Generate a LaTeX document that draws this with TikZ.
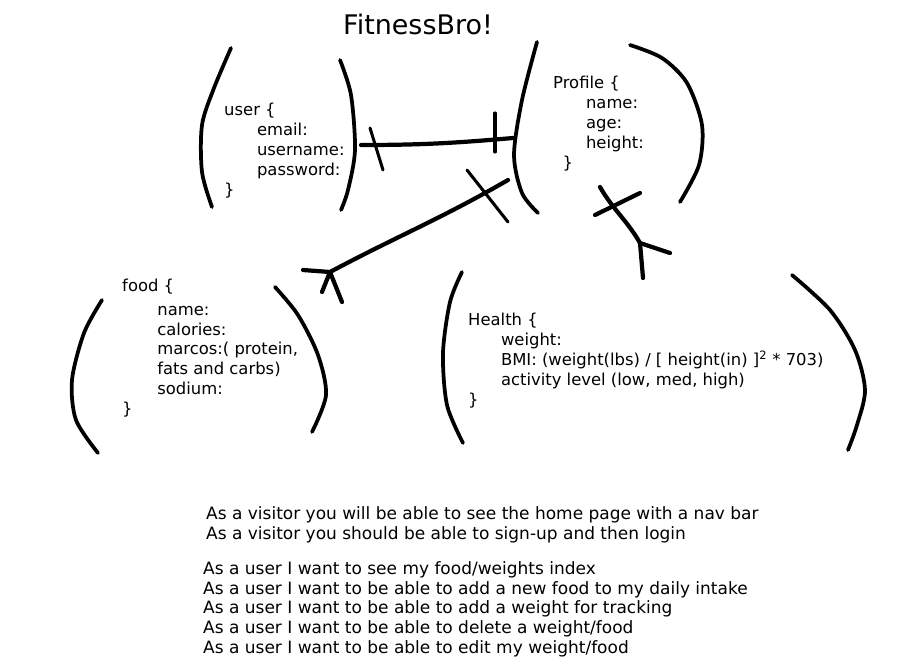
\documentclass[tikz,border=0pt]{standalone}
\usepackage{fontspec}
\setmainfont{DejaVu Sans}
\begin{document}
\begin{tikzpicture}[x = 0.03cm, y = -0.03cm]
    \tikzstyle{paren} = [line width = 3.2pt, line cap = round, line join = round]
    \tikzstyle{link} = [line width = 3.6pt, line cap = round, line join = round]
    \tikzstyle{tick} = [line width = 2.6pt, line cap = round]
    \tikzstyle{field} = [anchor = north west, align = left, inner sep = 0pt, font = \fontsize{14pt}{17pt}\selectfont]
    \tikzstyle{story} = [anchor = north west, align = left, inner sep = 0pt, font = \fontsize{14.5pt}{17pt}\selectfont]
    \useasboundingbox (0,0) rectangle (908,668);

    \node[font = \fontsize{23pt}{27pt}\selectfont](Title) at (418, 24){FitnessBro!};

    % entities
    \node[field](User) at (224, 103){user \{\\ \hspace*{28pt}email:\\ \hspace*{28pt}username:\\ \hspace*{28pt}password:\\ \}};
    \node[field](Profile) at (553, 76){Profile \{\\ \hspace*{28pt}name:\\ \hspace*{28pt}age:\\ \hspace*{28pt}height:\\ \hspace*{8pt}\}};
    \node[field](Food) at (122, 279){food \{\\[3pt] \hspace*{30pt}name:\\ \hspace*{30pt}calories:\\ \hspace*{30pt}marcos:( protein,\\ \hspace*{30pt}fats and carbs)\\ \hspace*{30pt}sodium:\\ \}};
    \node[field](Health) at (468, 313){Health \{\\ \hspace*{28pt}weight:\\ \hspace*{28pt}BMI: (weight(lbs) / [ height(in) ]\textsuperscript{2} * 703)\\ \hspace*{28pt}activity level (low, med, high)\\ \}};

    \draw[paren] plot[smooth] coordinates {(231,48) (214,88) (202,125) (202,172) (212,207)};
    \draw[paren] plot[smooth] coordinates {(340,60) (351,95) (355,150) (348,190) (341,210)};
    \draw[paren] plot[smooth] coordinates {(537,42) (522,100) (514,155) (522,193) (538,213)};
    \draw[paren] plot[smooth] coordinates {(630,45) (662,58) (687,83) (702,125) (699,165) (680,202)};
    \draw[paren] plot[smooth] coordinates {(102,300) (84,333) (72,380) (76,420) (98,453)};
    \draw[paren] plot[smooth] coordinates {(275,287) (298,315) (318,355) (326,395) (312,432)};
    \draw[paren] plot[smooth] coordinates {(462,272) (450,302) (443,353) (447,405) (463,443)};
    \draw[paren] plot[smooth] coordinates {(792,275) (830,310) (855,350) (865,390) (857,425) (848,450)};

    % user -- profile
    \coordinate(UserR) at (361, 145);
    \coordinate(ProfileL) at (513, 138);
    \draw[link](UserR) to[out = 0, in = 185] (ProfileL);
    \draw[tick](370, 128) -- (383, 170);
    \draw[tick](495, 113) -- (495, 152);

    % profile -- food
    \coordinate(ProfileSW) at (508, 180);
    \coordinate(FoodNE) at (330, 272);
    \draw[link](ProfileSW) to[out = 210, in = 28] (FoodNE);
    \draw[tick](467, 170) -- (508, 222);
    \draw[link](FoodNE) -- (303, 270);
    \draw[link](FoodNE) -- (322, 292);
    \draw[link](FoodNE) -- (342, 302);

    % profile -- health
    \coordinate(ProfileS) at (600, 187);
    \coordinate(HealthN) at (640, 243);
    \draw[link](ProfileS) to[out = -60, in = 120] (HealthN);
    \draw[link](595, 215) -- (640, 193);
    \draw[link](HealthN) -- (643, 278);
    \draw[link](HealthN) -- (670, 253);

    % user stories
    \node[story](Visitors) at (206, 506){As a visitor you will be able to see the home page with a nav bar\\ As a visitor you should be able to sign-up and then login};
    \node[story](Users) at (203, 561){As a user I want to see my food/weights index\\ As a user I want to be able to add a new food to my daily intake\\ As a user I want to be able to add a weight for tracking\\ As a user I want to be able to delete a weight/food\\ As a user I want to be able to edit my weight/food};
\end{tikzpicture}
\end{document}
